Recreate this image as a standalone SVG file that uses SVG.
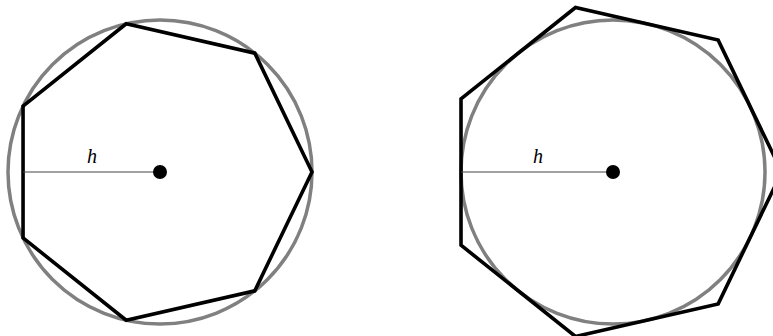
<svg xmlns="http://www.w3.org/2000/svg" width="773" height="336" viewBox="0 0 773 336">
<style>
.circ{fill:none;stroke:#808080;stroke-width:3.5}
.poly{fill:none;stroke:#000;stroke-width:3.6;stroke-linejoin:miter}
.rad{stroke:#444;stroke-width:1.2}
.lbl{font-family:"Liberation Serif","DejaVu Serif",serif;font-style:italic;font-size:20px;fill:#000}
</style>
<g id="inscribed">
<circle class="circ" cx="160" cy="172" r="152"/>
<polygon class="poly" points="312,172 254.77,53.16 126.18,23.81 23.05,106.05 23.05,237.95 126.18,320.19 254.77,290.84"/>
<line class="rad" x1="23.05" y1="172" x2="160" y2="172"/>
<circle cx="160" cy="172" r="7" fill="#000"/>
<text class="lbl" x="92" y="163" text-anchor="middle">h</text>
</g>
<g id="circumscribed">
<circle class="circ" cx="613" cy="172" r="152"/>
<polygon class="poly" points="781.7,172 718.18,40.11 575.46,7.53 461.01,98.81 461.01,245.19 575.46,336.47 718.18,303.89"/>
<line class="rad" x1="461" y1="172" x2="613" y2="172"/>
<circle cx="613" cy="172" r="7" fill="#000"/>
<text class="lbl" x="538" y="163" text-anchor="middle">h</text>
</g>
</svg>
